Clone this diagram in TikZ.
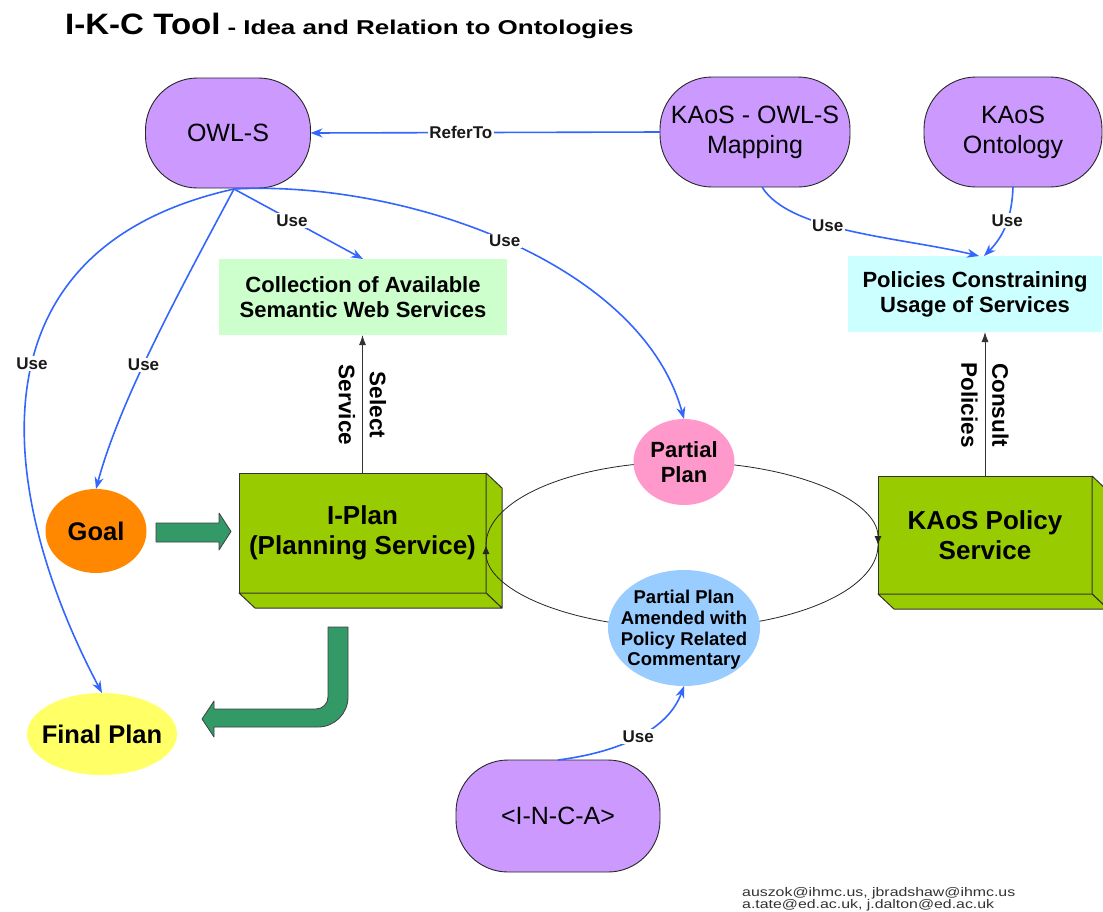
\documentclass[tikz,border=0pt]{standalone}
\usepackage{fontspec}
\setmainfont{Liberation Sans}
\usepackage{graphicx}
\usetikzlibrary{arrows.meta,shapes.geometric,calc}
\definecolor{purp}{RGB}{204,153,255}
\definecolor{useblue}{RGB}{51,102,255}
\definecolor{boxgreen}{RGB}{153,204,0}
\definecolor{darkgreen}{RGB}{51,153,102}
\definecolor{collgreen}{RGB}{204,255,204}
\definecolor{polcyan}{RGB}{204,255,255}
\definecolor{pinkc}{RGB}{255,153,204}
\definecolor{lblue}{RGB}{153,204,255}
\definecolor{goalorange}{RGB}{255,136,0}
\definecolor{finalyellow}{RGB}{255,255,102}
\newcommand{\ztext}[1]{\makebox[0pt]{\raisebox{-.37em}[0pt][0pt]{\begin{tabular}{@{}c@{}}#1\end{tabular}}}}
\begin{document}
\begin{tikzpicture}[x=1pt,y=-1pt,
  onto/.style={draw=black!85, line width=0.9pt, fill=purp, rounded corners=52pt,
    minimum height=110pt, align=center, inner sep=0pt, outer sep=0pt,
    font=\fontsize{25}{30}\selectfont},
  infobox/.style={minimum height=76pt, align=center, inner sep=0pt, outer sep=0pt,
    font=\bfseries\fontsize{22}{25}\selectfont},
  svcbox/.style={draw=black!80, line width=1pt, fill=boxgreen, align=center,
    inner sep=0pt, outer sep=0pt, font=\bfseries\fontsize{26}{30}\selectfont},
  svcside/.style={draw=black!80, line width=1pt, fill=boxgreen, line join=round},
  blob/.style={ellipse, inner sep=0pt, outer sep=0pt},
  usearrow/.style={draw=useblue, line width=1.6pt, -{Stealth[length=12pt,width=9pt]}},
  uselabel/.style={fill=white, inner sep=1.5pt, text=black!90, font=\bfseries\fontsize{17}{20}\selectfont},
  flow/.style={draw=black!80, line width=0.9pt, -{Latex[length=10pt,width=7pt]}},
  loopline/.style={draw=black!85, line width=0.8pt, -{Latex[length=9pt,width=7pt]}},
  bigarrow/.style={fill=darkgreen, draw=black!75, line width=0.8pt, line join=round},
  rotlabel/.style={rotate=-90, align=center, inner sep=0pt, font=\bfseries\fontsize{22.5}{31}\selectfont}
]
\useasboundingbox (0,0) rectangle (1103,911);
\fill[white] (0,0) rectangle (1103,911);

% title
\node[anchor=base west, inner sep=0pt] (title) at (65,34)
  {\scalebox{1.12}[1]{\bfseries\fontsize{29.5}{32}\selectfont I-K-C Tool}\hspace{7pt}%
   \scalebox{1.3}[1]{\bfseries\fontsize{20}{23}\selectfont - Idea and Relation to Ontologies}};

% ontology nodes
\node[onto, minimum width=165pt] (owls) at (228,133) {OWL-S};
\node[onto, minimum width=190pt] (map) at (755,132) {KAoS - OWL-S\\Mapping};
\node[onto, minimum width=178pt] (kont) at (1013,132) {KAoS\\Ontology};
\node[onto, minimum width=204pt, minimum height=112pt] (inca) at (558,816) {<I-N-C-A>};

% info boxes
\node[infobox, fill=collgreen, minimum width=288pt] (coll) at (363,297)
  {Collection of Available\\Semantic Web Services};
\node[infobox, fill=polcyan, minimum width=254pt] (pol) at (975,294)
  {Policies Constraining\\Usage of Services};

% service boxes (3D)
\node[svcbox, minimum width=247pt, minimum height=120pt] (iplan) at (362.5,533)
  {I-Plan\\(Planning Service)};
\draw[svcside] (iplan.north east) -- ++(16,15) -- ++(0,120) -- (iplan.south east) -- cycle;
\draw[svcside] (iplan.south west) -- (iplan.south east) -- ++(16,15) -- ($(iplan.south west)+(16,15)$) -- cycle;

\node[svcbox, minimum width=214pt, minimum height=118pt] (kaos) at (985,535)
  {KAoS Policy\\Service};
\draw[svcside] (kaos.north east) -- ++(16,15) -- ++(0,118) -- (kaos.south east) -- cycle;
\draw[svcside] (kaos.south west) -- (kaos.south east) -- ++(16,15) -- ($(kaos.south west)+(16,15)$) -- cycle;

% loop between I-Plan and KAoS
\coordinate (lL) at ($(iplan.east)+(0,12)$);
\coordinate (lR) at ($(kaos.west)+(0,10)$);
\draw[loopline] (lL) .. controls (486,499.2) and (573.7,462) .. (682,462)
  .. controls (790.3,462) and (878,499.2) .. (lR);
\draw[loopline] (lR) .. controls (878,590.8) and (790.3,628) .. (682,628)
  .. controls (573.7,628) and (486,590.8) .. (lL);

% ellipses
\node[blob, fill=goalorange, minimum width=101pt, minimum height=84pt,
  font=\bfseries\fontsize{25.5}{30}\selectfont] (goal) at (96,531) {\ztext{Goal}};
\node[blob, fill=finalyellow, minimum width=150pt, minimum height=82pt,
  font=\bfseries\fontsize{25.5}{30}\selectfont] (final) at (102,734) {\ztext{Final Plan}};
\node[blob, fill=pinkc, minimum width=101pt, minimum height=86pt,
  font=\bfseries\fontsize{22}{25}\selectfont] (pp) at (684,462) {\ztext{Partial\\Plan}};
\node[blob, fill=lblue, minimum width=152pt, minimum height=116pt,
  font=\bfseries\fontsize{18.5}{20.7}\selectfont] (ppa) at (684,628)
  {\ztext{Partial Plan\\Amended with\\Policy Related\\Commentary}};

% black flow arrows with rotated labels
\draw[flow] (iplan.north) -- (iplan.north |- coll.south);
\node[rotlabel] (sellbl) at (362.5,405) {Select\\Service};
\draw[flow] (kaos.north) -- (kaos.north |- pol.south);
\node[rotlabel] (conlbl) at (985,405) {Consult\\Policies};

% blue "Use" connectors
\coordinate (ob) at ($(owls.south)+(6,1)$);
\draw[usearrow] (map.west) -- (owls.east) node[uselabel, pos=0.57] (lrefer) {ReferTo};
\draw[usearrow] (ob) .. controls (-40,250) and (0,500) .. (final.north)
  node[uselabel, pos=0.45] (lu1) {Use};
\draw[usearrow] (ob) .. controls (180,290) and (120,400) .. (goal.north)
  node[uselabel, pos=0.57] (lu2) {Use};
\draw[usearrow] (ob) -- (coll.north) node[uselabel, pos=0.45] (lu3) {Use};
\draw[usearrow] (ob) .. controls (400,180) and (640,260) .. (pp.north)
  node[uselabel, pos=0.5] (lu4) {Use};
\draw[usearrow] ($(map.south)+(7,0)$) .. controls (790,232) and (900,237) .. ($(pol.north)+(4,0)$)
  node[uselabel, pos=0.4] (lu5) {Use};
\draw[usearrow] (kont.south) .. controls (1012,215) and (1005,235) .. ($(pol.north)+(9,0)$)
  node[uselabel, pos=0.45] (lu6) {Use};
\draw[usearrow] (inca.north) .. controls (620,752) and (668,730) .. (ppa.south)
  node[uselabel, pos=0.5] (lu7) {Use};

% big green arrows
\draw[bigarrow] (156,523) -- (219,523) -- (219,513) -- (231,531.5) -- (219,550) -- (219,542)
  -- (156,542) -- cycle;
\draw[bigarrow] (328,627) -- (348,627) -- (348,697)
  .. controls (348,713.6) and (334.6,727) .. (318,727) -- (214,727) -- (214,737)
  -- (202,719) -- (214,701) -- (214,709) -- (316,709)
  .. controls (322.6,709) and (328,703.6) .. (328,697) -- cycle;

% authors
\node[anchor=north west, inner sep=0pt, align=left, text=black!80,
  font=\fontsize{12.5}{12}\selectfont] (mail) at (742,887)
  {\scalebox{1.27}[1]{auszok@ihmc.us, jbradshaw@ihmc.us}\\
   \scalebox{1.27}[1]{a.tate@ed.ac.uk, j.dalton@ed.ac.uk}};
\end{tikzpicture}
\end{document}
